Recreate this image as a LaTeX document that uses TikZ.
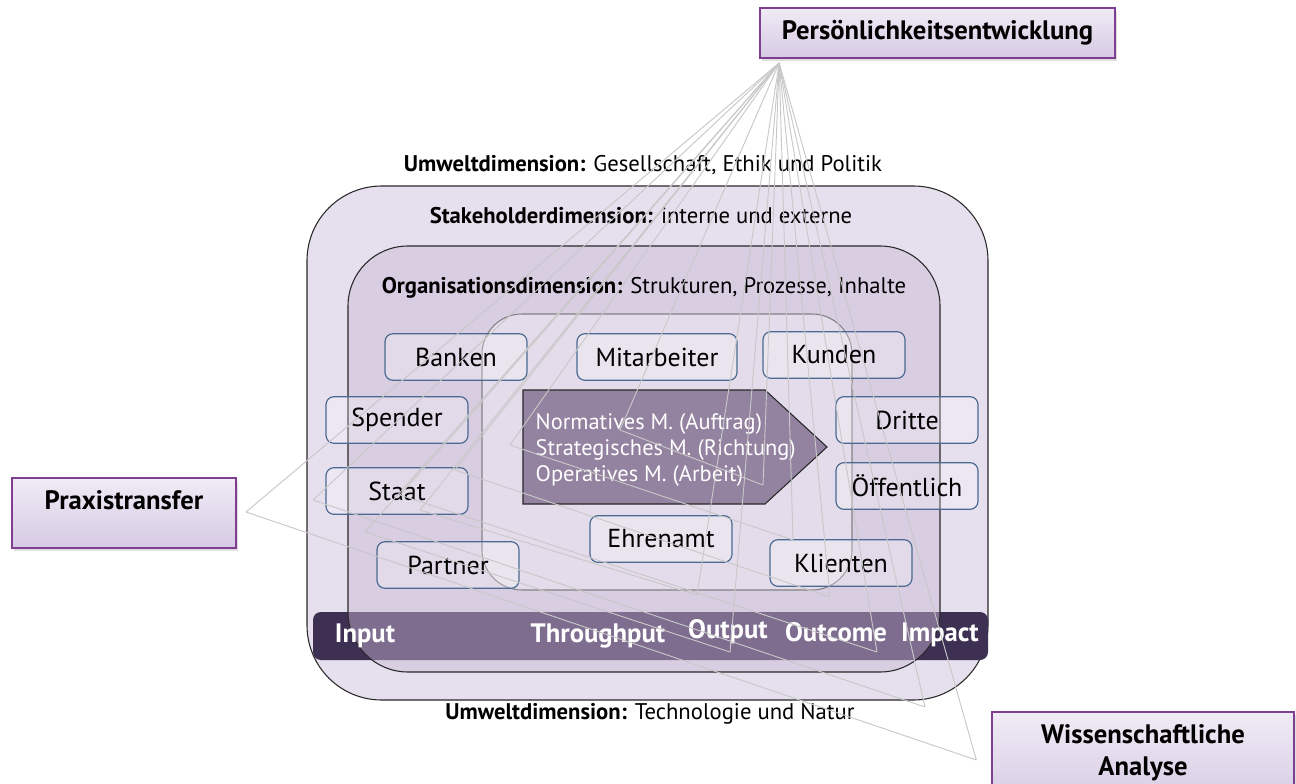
\documentclass[tikz,border=0pt]{standalone}
\usepackage{fontspec}
\setmainfont{PT Sans}
\usetikzlibrary{shadows,calc}

\definecolor{umwelt}{RGB}{230,224,238}
\definecolor{orga}{RGB}{202,183,213}
\definecolor{barpurple}{RGB}{62,48,82}
\definecolor{arrowpurple}{RGB}{147,130,160}
\definecolor{boxblue}{RGB}{74,106,145}
\definecolor{keyframe}{RGB}{126,62,146}
\definecolor{keytop}{RGB}{240,235,245}
\definecolor{keybottom}{RGB}{214,202,228}
\definecolor{leader}{RGB}{200,200,200}

\tikzset{
  keybox/.style={draw=keyframe, line width=1.5pt, top color=keytop, bottom color=keybottom,
    drop shadow={opacity=0.25, shadow xshift=1.5pt, shadow yshift=-2pt},
    font=\bfseries\fontsize{20}{24}\selectfont, align=center, inner sep=0pt},
  partbox/.style={draw=boxblue, line width=0.9pt, rounded corners=6pt, fill=white, fill opacity=0.25,
    text opacity=1, minimum width=106.5pt, minimum height=35pt, font=\fontsize{19.5}{22}\selectfont},
  dimlbl/.style={font=\fontsize{17}{20}\selectfont},
  barlbl/.style={text=white, font=\bfseries\fontsize{20}{22}\selectfont},
  leaderline/.style={draw=leader, line width=0.7pt, line join=round},
}

\begin{document}
\begin{tikzpicture}[x=0.75pt,y=0.75pt,yscale=-1,xscale=1]
\clip (0,0) rectangle (1296,784);

%Rounded Rect: Stakeholder
\draw [draw={rgb,255:red,40;green,40;blue,40}, fill=umwelt, line width=0.8pt, rounded corners=56pt] (307,186) rectangle (988,700);
%Rounded Rect: Wirkungskette
\fill [barpurple, rounded corners=6pt] (313,612) rectangle (988,660);
%Rounded Rect: Organisation
\draw [draw={rgb,255:red,40;green,40;blue,40}, line width=0.8pt, fill=orga, fill opacity=0.46, rounded corners=45pt] (348,246) rectangle (940,672);
%Rounded Rect: Management
\draw [draw={rgb,255:red,130;green,130;blue,130}, line width=0.8pt, fill=white, fill opacity=0.3, rounded corners=30pt] (482,314) rectangle (852,590);

%Dimension labels
\node [dimlbl] (umwtop) at (643,165) {\textbf{Umweltdimension:} Gesellschaft, Ethik und Politik};
\node [dimlbl] (stake) at (641,216) {\textbf{Stakeholderdimension:} interne und externe};
\node [dimlbl] (orgdim) at (644,288) {\textbf{Organisationsdimension:} Strukturen, Prozesse, Inhalte};
\node [dimlbl] (umwbot) at (650,714) {\textbf{Umweltdimension:} Technologie und Natur};

%Stakeholder boxes
\node [partbox] (banken) at (456,357) {Banken};
\node [partbox, minimum width=120pt] (mitarb) at (657,357) {Mitarbeiter};
\node [partbox] (kunden) at (834,355) {Kunden};
\node [partbox] (spender) at (397,420) {Spender};
\node [partbox] (staat) at (397,491) {Staat};
\node [partbox] (dritte) at (907,420) {Dritte};
\node [partbox] (oeff) at (907,486) {Öffentlich};
\node [partbox] (partner) at (448,565) {Partner};
\node [partbox] (ehren) at (661,539) {Ehrenamt};
\node [partbox] (klient) at (841,563) {Klienten};

%Pentagon arrow
\draw [draw={rgb,255:red,40;green,40;blue,40}, line width=0.8pt, fill=arrowpurple] (523,390) -- (765,390) -- (827,447) -- (765,504) -- (523,504) -- cycle;
\node [anchor=west, align=left, text=white, font=\fontsize{16.8}{19.5}\selectfont] (mgmt) at (531,450) {Normatives M. (Auftrag)\\Strategisches M. (Richtung)\\Operatives M. (Arbeit)};

%Bar labels
\node [barlbl] (input) at (365,636) {Input};
\node [barlbl] (through) at (598,636) {Throughput};
\node [barlbl] (output) at (728,632) {Output};
\node [barlbl] (outcome) at (836,632) {Outcome};
\node [barlbl] (impact) at (940,635) {Impact};

%Key boxes
\node [keybox, minimum width=266pt, minimum height=37.5pt] (pers) at (937.5,33) {Persönlichkeitsentwicklung};
\node [keybox, minimum width=168pt, minimum height=52.5pt] (praxis) at (124,513) {Praxistransfer\\[-4pt]};
\node [keybox, minimum width=226pt, minimum height=70pt] (wiss) at (1143,759) {Wissenschaftliche\\Analyse\\[-10.5pt]};

%Leader triangles
\coordinate (ptip) at ($(pers.south west)+(20,4)$);
\coordinate (prtip) at ($(praxis.east)+(9,-1)$);
\coordinate (wtip) at ($(wiss.west)+(-15,1)$);
\draw [leaderline] (ptip) -- (prtip) -- (wtip) -- cycle;
\foreach \lx/\ly/\rx/\ry in {313/500/925/707, 510/445/793/540, 455/470/830/597, 365/532/730/652, 420/510/697/595, 620/430/763/485, 400/495/877/652}
  \draw [leaderline] (ptip) -- (\lx,\ly) -- (\rx,\ry) -- cycle;

\end{tikzpicture}
\end{document}
